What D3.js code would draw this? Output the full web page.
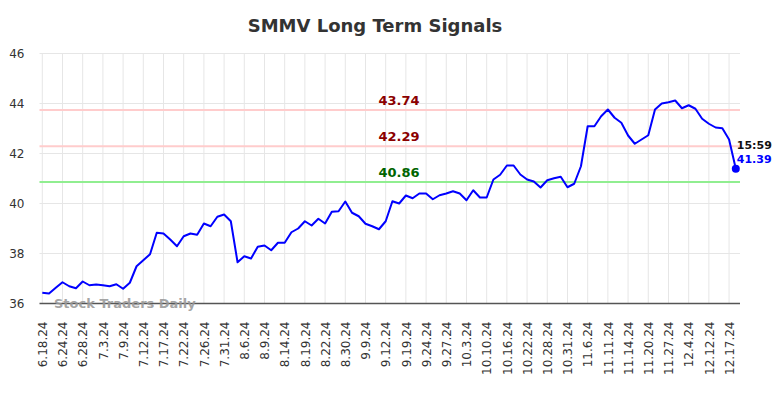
<!DOCTYPE html>
<html>
<head>
<meta charset="utf-8">
<script src="https://cdn.jsdelivr.net/npm/d3@7"></script>
<style>
  body { margin: 0; background: #fff; }
  text { font-family: "DejaVu Sans", sans-serif; }
</style>
</head>
<body>
<div id="viz_div"></div>
<script>
// DATA
// ---------------------------------------------------------------------------------------------------------------------------------
const tickLabels = ["6.18.24", "6.24.24", "6.28.24", "7.3.24", "7.9.24", "7.12.24", "7.17.24", "7.22.24", "7.26.24",
    "7.31.24", "8.6.24", "8.9.24", "8.14.24", "8.19.24", "8.22.24", "8.30.24", "9.9.24", "9.12.24", "9.19.24", "9.24.24",
    "9.27.24", "10.3.24", "10.10.24", "10.16.24", "10.22.24", "10.28.24", "10.31.24", "11.6.24", "11.11.24", "11.14.24",
    "11.20.24", "11.27.24", "12.4.24", "12.12.24", "12.17.24"];

const prices = [36.43, 36.40, 36.63, 36.85, 36.69, 36.61, 36.88, 36.73, 36.76, 36.73,
    36.69, 36.77, 36.59, 36.83, 37.49, 37.73, 37.97, 38.83, 38.80, 38.56,
    38.29, 38.69, 38.80, 38.75, 39.20, 39.09, 39.47, 39.56, 39.29, 37.65,
    37.89, 37.80, 38.27, 38.32, 38.13, 38.43, 38.43, 38.85, 39.00, 39.29,
    39.12, 39.39, 39.20, 39.67, 39.69, 40.08, 39.63, 39.49, 39.19, 39.09,
    38.97, 39.29, 40.09, 40.00, 40.32, 40.21, 40.40, 40.40, 40.17, 40.33,
    40.40, 40.49, 40.40, 40.13, 40.53, 40.24, 40.24, 40.96, 41.15, 41.52,
    41.52, 41.16, 40.96, 40.88, 40.64, 40.93, 41.01, 41.07, 40.65, 40.79,
    41.49, 43.09, 43.09, 43.49, 43.76, 43.43, 43.23, 42.72, 42.39, 42.56,
    42.73, 43.76, 44.00, 44.05, 44.12, 43.81, 43.93, 43.79, 43.39, 43.19,
    43.04, 43.01, 42.56, 41.39];

const yTicks = [36, 38, 40, 42, 44, 46];
const resistanceLevels = [43.74, 42.29];
const supportLevels = [40.86];
const lastTime = "15:59";
const ticksEvery = 3;

// SCALERS
// ---------------------------------------------------------------------------------------------------------------------------------
const width = 784, height = 398;
const plotLeft = 39.5, plotRight = 740;

const x = d3.scaleLinear([0, prices.length - 1], [42.3, 735.8]);
const y = d3.scaleLinear([36, 46], [303.5, 53.5]);

const svg = d3.select("#viz_div")
    .append("svg")
    .attr("width", width)
    .attr("height", height);

// GRID
// ---------------------------------------------------------------------------------------------------------------------------------
const tickIdx = tickLabels.map((d, i) => i * ticksEvery);

svg.append("g").selectAll("line")
    .data(tickIdx)
    .enter()
    .append("line")
    .attr("x1", d => x(d)).attr("x2", d => x(d))
    .attr("y1", y(46)).attr("y2", y(36))
    .attr("stroke", "#e6e6e6")
    .attr("stroke-width", 1);

svg.append("g").selectAll("line")
    .data(yTicks.filter(d => d > 36))
    .enter()
    .append("line")
    .attr("x1", plotLeft).attr("x2", plotRight)
    .attr("y1", d => y(d)).attr("y2", d => y(d))
    .attr("stroke", "#e6e6e6")
    .attr("stroke-width", 1);

// AXES
// ---------------------------------------------------------------------------------------------------------------------------------
const yAxis = svg.append("g")
    .attr("transform", `translate(${plotLeft},0)`)
    .call(d3.axisLeft(y).tickValues(yTicks).tickSize(0).tickPadding(15).tickFormat(d3.format("d")));
yAxis.select(".domain").remove();
yAxis.selectAll("text")
    .style("font-family", "DejaVu Sans")
    .style("font-size", "12px")
    .attr("fill", "#333");

const xAxis = svg.append("g")
    .attr("transform", `translate(0,${y(36)})`)
    .call(d3.axisBottom(x).tickValues(tickIdx).tickSize(0).tickFormat((d, i) => tickLabels[i]));
xAxis.select(".domain").remove();
xAxis.selectAll("text")
    .style("font-family", "DejaVu Sans")
    .style("font-size", "12px")
    .attr("fill", "#333")
    .attr("text-anchor", "end")
    .attr("transform", "rotate(-90)")
    .attr("x", -18)
    .attr("y", 0)
    .attr("dy", "0.35em");

svg.append("line")
    .attr("x1", plotLeft).attr("x2", plotRight)
    .attr("y1", y(36)).attr("y2", y(36))
    .attr("stroke", "#555")
    .attr("stroke-width", 1.3);

// REFERENCE LINES
// ---------------------------------------------------------------------------------------------------------------------------------
const levels = resistanceLevels.map(v => ({ v: v, line: "#ffcccc", text: "#8b0000" }))
    .concat(supportLevels.map(v => ({ v: v, line: "#90ee90", text: "#006400" })));

svg.append("g").selectAll("line")
    .data(levels)
    .enter()
    .append("line")
    .attr("x1", plotLeft).attr("x2", plotRight)
    .attr("y1", d => y(d.v)).attr("y2", d => y(d.v))
    .attr("stroke", d => d.line)
    .attr("stroke-width", 2);

svg.append("g").selectAll("text")
    .data(levels)
    .enter()
    .append("text")
    .attr("x", 399)
    .attr("y", d => y(d.v) - 5)
    .attr("text-anchor", "middle")
    .style("font-size", "13px")
    .style("font-weight", "bold")
    .attr("fill", d => d.text)
    .text(d => d.v.toFixed(2));

// WATERMARK
// ---------------------------------------------------------------------------------------------------------------------------------
svg.append("text")
    .attr("x", 54)
    .attr("y", 308)
    .style("font-size", "13px")
    .style("font-weight", "bold")
    .attr("fill", "#999")
    .attr("fill-opacity", 0.9)
    .text("Stock Traders Daily");

// PRICE LINE
// ---------------------------------------------------------------------------------------------------------------------------------
svg.append("path")
    .datum(prices)
    .attr("fill", "none")
    .attr("stroke", "#0000ff")
    .attr("stroke-width", 2)
    .attr("stroke-linejoin", "round")
    .attr("d", d3.line()
        .x((d, i) => x(i))
        .y(d => y(d)));

const lastI = prices.length - 1;
svg.append("circle")
    .attr("cx", x(lastI))
    .attr("cy", y(prices[lastI]))
    .attr("r", 4)
    .attr("fill", "#0000ff");

svg.append("text")
    .attr("x", x(lastI) + 1)
    .attr("y", y(prices[lastI]) - 20)
    .style("font-size", "11px")
    .style("font-weight", "bold")
    .attr("fill", "#111")
    .text(lastTime);

svg.append("text")
    .attr("x", x(lastI) + 1)
    .attr("y", y(prices[lastI]) - 6)
    .style("font-size", "11px")
    .style("font-weight", "bold")
    .attr("fill", "#0000ff")
    .text(prices[lastI].toFixed(2));

// TITLE
// ---------------------------------------------------------------------------------------------------------------------------------
svg.append("text")
    .attr("x", 375)
    .attr("y", 32)
    .attr("text-anchor", "middle")
    .style("font-size", "18px")
    .style("font-weight", "bold")
    .attr("fill", "#333")
    .text("SMMV Long Term Signals");
</script>
</body>
</html>
